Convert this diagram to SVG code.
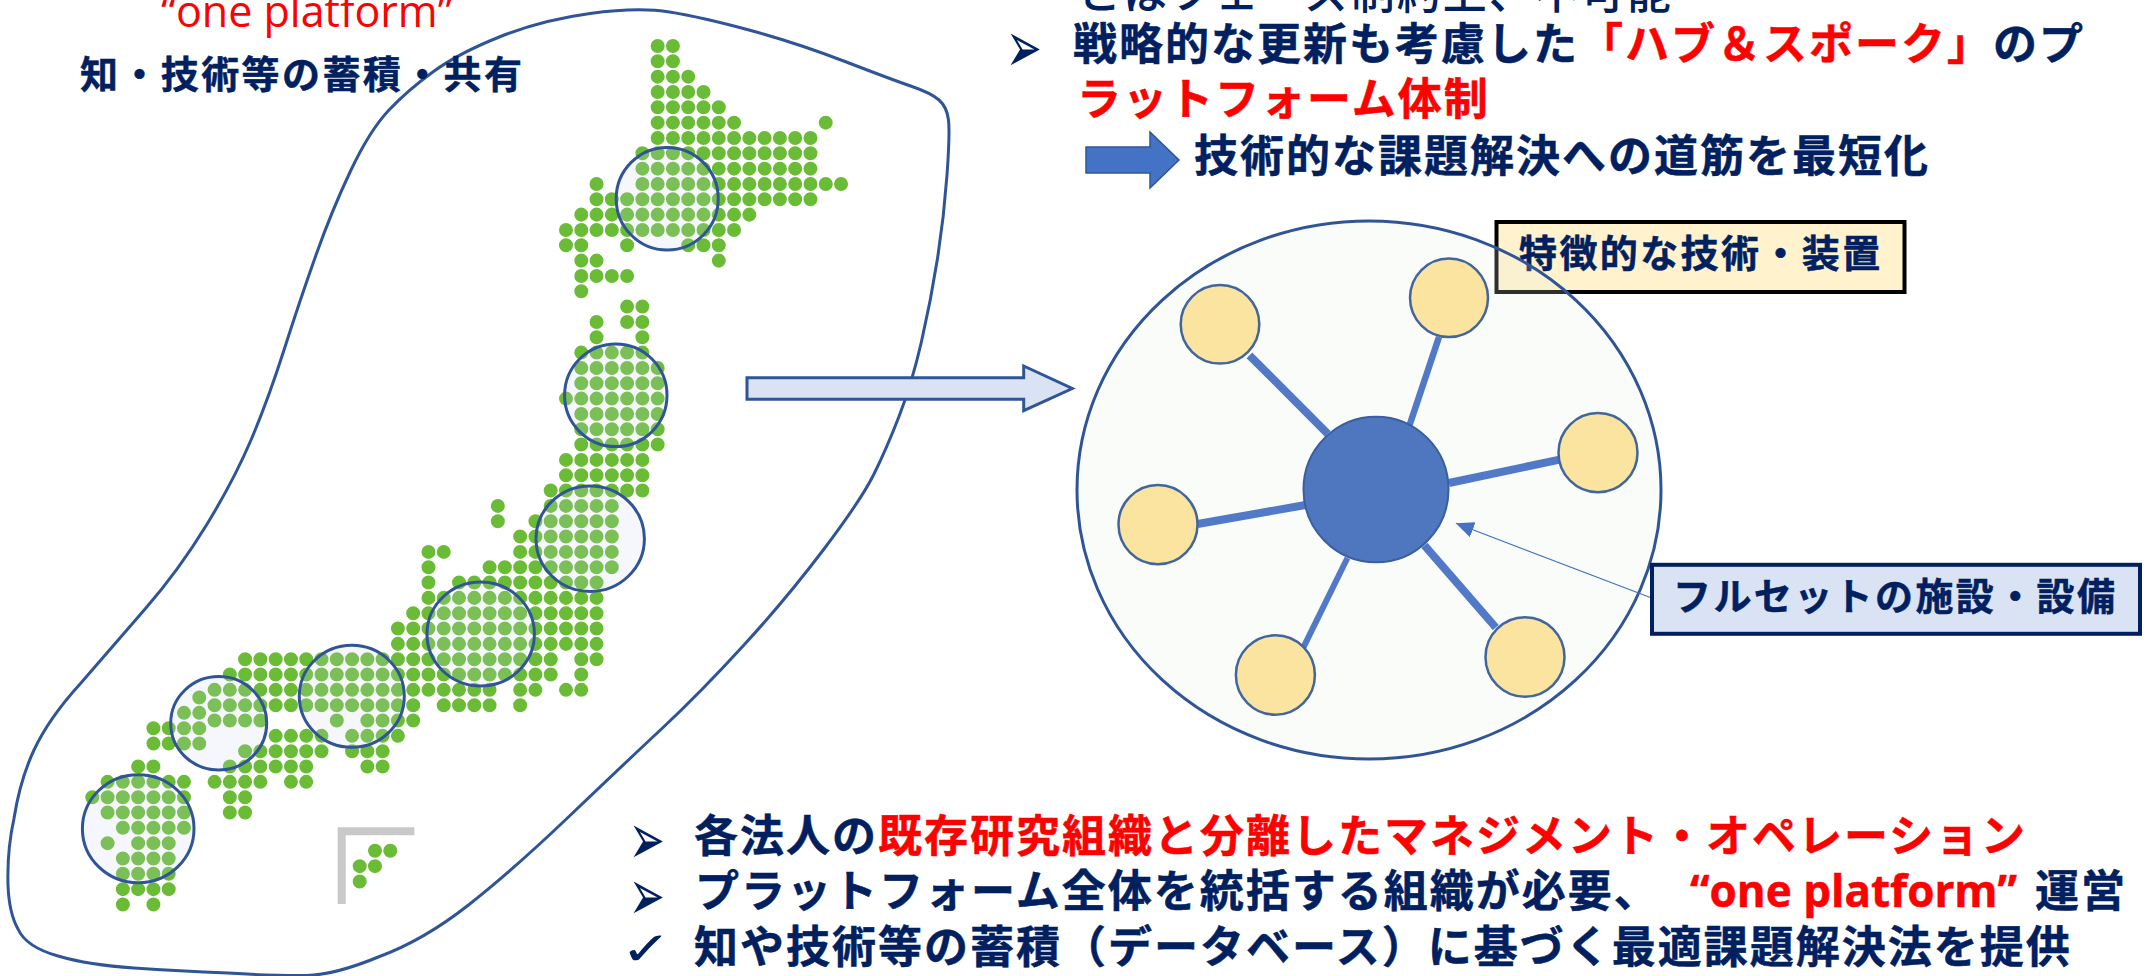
<svg xmlns="http://www.w3.org/2000/svg" width="2147" height="976" viewBox="0 0 2147 976">
<style>
.t{font-family:"Noto Sans CJK JP","Liberation Sans",sans-serif;font-weight:700;fill:#002060;stroke:#002060;stroke-width:.5;font-size:44px;letter-spacing:2px}
.l{font-size:38px;letter-spacing:2.4px}
.r{fill:#FF0000;stroke:#FF0000}
.en{font-family:"Open Sans","Noto Sans",sans-serif;letter-spacing:0}
.b{font-family:"DejaVu Sans",sans-serif;fill:#002060;font-size:36px}
.s{fill:#CCD5EF;fill-opacity:.18;stroke:#2F5597;stroke-width:3}
.n{fill:#FAE49F;stroke:#41659F;stroke-width:2.5}
.c{stroke:#5279C7;fill:none}
</style>
<defs>
<marker id="ah" markerUnits="userSpaceOnUse" markerWidth="20" markerHeight="16" refX="18" refY="8" orient="auto"><path d="M0 0L18 8L0 16Z" fill="#4472C4"/></marker>
</defs>
<g id="map">
<path fill="none" stroke="#2F5597" stroke-width="3" d="M669.5 12Q701 17 749 30Q797 43 845 61.5Q893 80 912 86.5Q931 93 939 100Q947 107 948.5 120Q950 133 947 175Q944 217 937.5 258.5Q931 300 921.5 341.5Q912 383 899 416.5Q886 450 873.5 475Q861 500 824 549Q787 598 743.5 645.5Q700 693 662.5 728Q625 763 569 816.5Q513 870 468.5 905Q424 940 379.5 956.5Q335 975 306 975.5Q277 976 228 973Q179 971 134 968Q89 965 58 956Q26 947 18 929Q9 913 8 885Q7 850 14 818.5Q20 780 34 750Q49 718 80.5 683.5Q112 647 145.5 608.5Q179 570 206.5 525Q234 480 251 440Q268 400 284 350Q300 300 316 255Q332 210 351 170Q370 130 389 110Q408 90 433.5 71.5Q459 53 500.5 36.5Q542 20 590 13.5Q638 7 669.5 12Z"/>
<g transform="translate(657.67 46) scale(15.28 15.33)">
<path fill="none" stroke="#6ABB36" stroke-width=".915" stroke-linecap="round" stroke-dasharray="0 1" d="M0 0H1.01M0 1H1.01M0 2H2.01M0 3H3.01M0 4H4.01M0 5H5.01M11 5H11.01M0 6H10.01M-1 7H10.01M-1 8H10.01M-4 9H-3.99M-1 9H12.01M-4 10H10.01M-5 11H6.01M-6 12H5.01M-6 13H-4.99M-2 13H-1.99M2 13H4.01M-5 14H-3.99M4 14H4.01M-5 15H-1.99M-5 16H-4.99M-2 17H-.99M-4 18H-3.99M-2 18H-.99M-4 19H-3.99M-1 19H-.99M-5 20H-.99M-5 21H.01M-5 22H.01M-6 23H.01M-5 24H.01M-5 25H.01M-5 26H.01M-6 27H-.99M-6 28H-.99M-7 29H-.99M-10.46 30H-10.45M-7 30H-2.99M-10.46 31H-10.45M-8 31H-2.99M-9 32H-2.99M-15 33H-13.99M-9 33H-2.99M-15 34H-14.99M-11 34H-2.99M-15 35H-14.99M-13 35H-3.99M-15 36H-3.99M-16 37H-3.99M-17 38H-3.99M-17 39H-3.99M-27 40H-6.99M-5 40H-3.99M-28 41H-6.99M-5 41H-4.99M-29 42H-10.99M-9 42H-7.99M-6 42H-4.99M-29 43H-15.99M-14 43H-10.99M-9 43H-8.99M-29 44H-25.99M-21 44H-20.99M-19 44H-15.99M-25 45H-21.99M-20 45H-16.99M-27 46H-21.99M-20 46H-17.99M-28 47H-22.99M-19 47H-17.99M-29 48H-25.99M-24 48H-22.99M-28 49H-26.99M-28 50H-26.99M-30 42.5H-29.99M-31 43.5H-29.99M-33 44.5H-29.99M-33 45.5H-29.99M-34 47H-32.99M-36 48H-30.99M-37 49H-30.99M-36 50H-30.99M-35 51H-30.99M-36 52H-35.99M-34 52H-31.99M-35 53H-31.99M-35 54H-31.99M-35 55H-31.99M-35 56H-34.99M-33 56H-32.99M-18.5 52.5H-17.49M-19.5 53.5H-18.49M-19.5 54.5H-19.49"/>
</g>
<path d="M341.7 904V831.3H414.3" fill="none" stroke="#C9C9C9" stroke-width="8"/>
<ellipse class="s" cx="667.2" cy="198.7" rx="51" ry="51.3"/>
<ellipse class="s" cx="615.8" cy="395.3" rx="51.2" ry="51.3"/>
<ellipse class="s" cx="590.2" cy="538.7" rx="54.2" ry="52.7"/>
<ellipse class="s" cx="480.7" cy="634" rx="53.7" ry="52"/>
<ellipse class="s" cx="351.8" cy="696.3" rx="52.5" ry="51"/>
<ellipse class="s" cx="218.7" cy="723.3" rx="48" ry="46.7"/>
<ellipse class="s" cx="138.2" cy="828.7" rx="55.8" ry="54"/>
</g>
<g id="label-one-platform">
<text class="t r en" x="161" y="27" style="font-weight:400;font-size:43px;stroke-width:0">“one platform”</text>
<text class="t l" x="80" y="88">知・技術等の蓄積・共有</text>
</g>
<g id="arrow-main"><path d="M747 377.7H1023.7V366L1072.3 388.5L1023.7 410.7V399.3H747Z" fill="#DAE3F3" stroke="#2F5597" stroke-width="3"/></g>
<g id="box-features">
<rect x="1496.5" y="222" width="408" height="70" fill="#FFF2CC" stroke="#000" stroke-width="4"/>
<text class="t l" x="1519" y="267">特徴的な技術・装置</text>
</g>
<g id="hub-area"><ellipse cx="1369" cy="490" rx="292" ry="269" fill="#E8F2E0" fill-opacity=".2" stroke="#2F5597" stroke-width="3"/></g>
<g id="connectors">
<line class="c" x1="1249.4" y1="355.3" x2="1327.8" y2="433.8" stroke-width="8"/>
<line class="c" x1="1439" y1="337" x2="1409.7" y2="424.7" stroke-width="6.5"/>
<line class="c" x1="1564.4" y1="458.7" x2="1448.9" y2="483" stroke-width="8"/>
<line class="c" x1="1495.8" y1="627.5" x2="1424.4" y2="545.3" stroke-width="8"/>
<line class="c" x1="1303.3" y1="647.6" x2="1347.4" y2="558" stroke-width="6"/>
<line class="c" x1="1197.6" y1="524" x2="1305.4" y2="505" stroke-width="8"/>
<line x1="1650.4" y1="597.5" x2="1455.9" y2="523.3" stroke="#4472C4" stroke-width="1.2" marker-end="url(#ah)"/>
</g>
<g id="node-a"><ellipse class="n" cx="1220" cy="324.3" rx="39.3" ry="39.3"/></g>
<g id="node-b"><ellipse class="n" cx="1449" cy="297.8" rx="39" ry="39.3"/></g>
<g id="node-c"><ellipse class="n" cx="1598" cy="452.7" rx="39.5" ry="39.6"/></g>
<g id="node-d"><ellipse class="n" cx="1525" cy="657" rx="39.5" ry="39.7"/></g>
<g id="node-e"><ellipse class="n" cx="1275.4" cy="675" rx="39.5" ry="39.7"/></g>
<g id="node-f"><ellipse class="n" cx="1158" cy="524.6" rx="39.5" ry="39.7"/></g>
<g id="node-hub"><ellipse cx="1376" cy="489.5" rx="72.5" ry="72.8" fill="#4F77C0" stroke="#3A5F9F" stroke-width="2"/></g>
<g id="box-facilities">
<rect x="1652" y="564.8" width="488" height="69" fill="#DAE3F3" stroke="#002060" stroke-width="4"/>
<text class="t l" x="1673" y="610">フルセットの施設・設備</text>
</g>
<g id="text-top">
<text class="t" x="1077" y="9" style="font-weight:500;stroke-width:0">とはフェーズ制約上、不可能</text>
<text class="b" transform="translate(1005.8 72) scale(1.2 2)">➢</text>
<text class="t" x="1073" y="60">戦略的な更新も考慮した<tspan class="r">「ハブ＆スポーク」</tspan>のプ</text>
<text class="t r" x="1077" y="115">ラットフォーム体制</text>
<path d="M1086 147H1150V132L1179 160L1150 188V173H1086Z" fill="#4472C4" stroke="#2F5597" stroke-width="1.5"/>
<text class="t" x="1194" y="172">技術的な課題解決への道筋を最短化</text>
</g>
<g id="text-bottom">
<text class="b" transform="translate(628.8 864) scale(1.2 2)">➢</text>
<text class="t" x="694" y="852">各法人の<tspan class="r">既存研究組織と分離したマネジメント・オペレーション</tspan></text>
<text class="b" transform="translate(628.8 920) scale(1.2 2)">➢</text>
<text class="t" x="695" y="907">プラットフォーム全体を統括する組織が必要、<tspan class="r en" x="1690">“one platform”</tspan><tspan x="2035">運営</tspan></text>
<text class="b" transform="translate(620.5 965) scale(1.7 1.3)">✓</text>
<text class="t" x="694" y="963">知や技術等の蓄積（データベース）に基づく最適課題解決法を提供</text>
</g>
</svg>
